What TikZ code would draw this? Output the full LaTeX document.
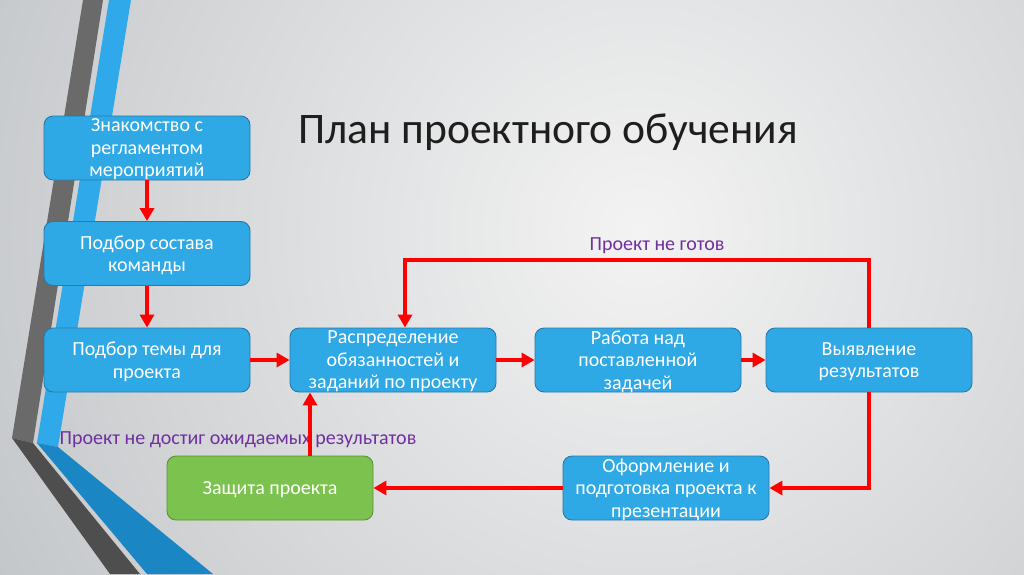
\documentclass[tikz,border=0pt]{standalone}
\usepackage{fontspec}
\setmainfont{Carlito}
\usetikzlibrary{arrows.meta,calc}
\definecolor{boxfill}{HTML}{2FA8E6}
\definecolor{boxline}{HTML}{2A78A8}
\definecolor{grfill}{HTML}{7CC24E}
\definecolor{grline}{HTML}{5A9238}
\definecolor{lbl}{HTML}{7030A0}
\definecolor{bandgray}{HTML}{6A6A6A}
\definecolor{bandgraydk}{HTML}{4E4E4E}
\definecolor{bandblue}{HTML}{2FA9E9}
\definecolor{bandbluedk}{HTML}{1A86C4}
\definecolor{bgin}{HTML}{F3F3F3}
\definecolor{bgout}{HTML}{C2C5C8}
\definecolor{titlec}{HTML}{1E1E1E}
\tikzset{
  box/.style={rounded corners=9pt, draw=boxline, line width=0.9pt, fill=boxfill,
    text=white, minimum width=206pt, minimum height=64pt, align=center,
    font=\fontsize{20}{22.5}\selectfont, inner sep=0pt, text depth=0pt},
  greenbox/.style={box, draw=grline, fill=grfill},
  arr/.style={draw=red, line width=4pt, -{Triangle[length=13pt,width=14pt]}},
  lbltext/.style={text=lbl, font=\fontsize{20}{22}\selectfont, inner sep=0pt}
}
\begin{document}
\begin{tikzpicture}[x=1pt,y=-1pt]
\useasboundingbox (0,0) rectangle (1024,574);
\fill[bgout] (0,0) rectangle (1024,574);
\begin{scope}
\clip (0,0) rectangle (1024,574);
\shade[inner color=bgin, outer color=bgout] (640,230) circle[radius=760pt];
\end{scope}
% decorative bands
\fill[bandgray] (83,0) -- (103,0) -- (33,443) -- (12,438) -- cycle;
\fill[bandblue] (109,0) -- (131,0) -- (58,447) -- (37,443) -- cycle;
\fill[bandgraydk] (12,438) -- (33,443) -- (140,574) -- (110,574) -- cycle;
\fill[bandbluedk] (37,443) -- (58,447) -- (213,574) -- (147,574) -- cycle;
% title
\node[anchor=base west, text=titlec, font=\fontsize{43.6}{48}\selectfont, inner sep=0pt] (title) at (298,143) {План проектного обучения};
% boxes
\node[box] (b1) at (147,148) {Знакомство с\\регламентом\\мероприятий};
\node[box] (b2) at (147,253.5) {Подбор состава\\команды};
\node[box] (b3) at (147,360) {Подбор темы для\\проекта};
\node[box] (b4) at (393,360) {Распределение\\обязанностей и\\заданий по проекту};
\node[box] (b5) at (638,360) {Работа над\\поставленной\\задачей};
\node[box] (b6) at (869,360) {Выявление\\результатов};
\node[greenbox] (b7) at (270,488) {Защита проекта};
\node[box] (b8) at (666,488) {Оформление и\\подготовка проекта к\\презентации};
% labels
\node[lbltext] (l1) at (657,246) {Проект не готов};
\node[lbltext] (l2) at (238,440) {Проект не достиг ожидаемых результатов};
% connectors
\draw[arr] (b1) -- (b2);
\draw[arr] (b2) -- (b3);
\draw[arr] (b3) -- (b4);
\draw[arr] (b4) -- (b5);
\draw[arr] (b5) -- (b6);
\coordinate (t1) at (869,260);
\coordinate (t2) at (405,260);
\draw[arr] (b6.north) -- (t1) -- (t2) -- (t2 |- b4.north);
\coordinate (r1) at (b6.south |- b8.east);
\draw[arr] (b6.south) -- (r1) -- (b8.east);
\draw[arr] (b8) -- (b7);
\coordinate (u1) at ([xshift=40pt]b7.north);
\draw[arr] (u1) -- (u1 |- b4.south);
\end{tikzpicture}
\end{document}
